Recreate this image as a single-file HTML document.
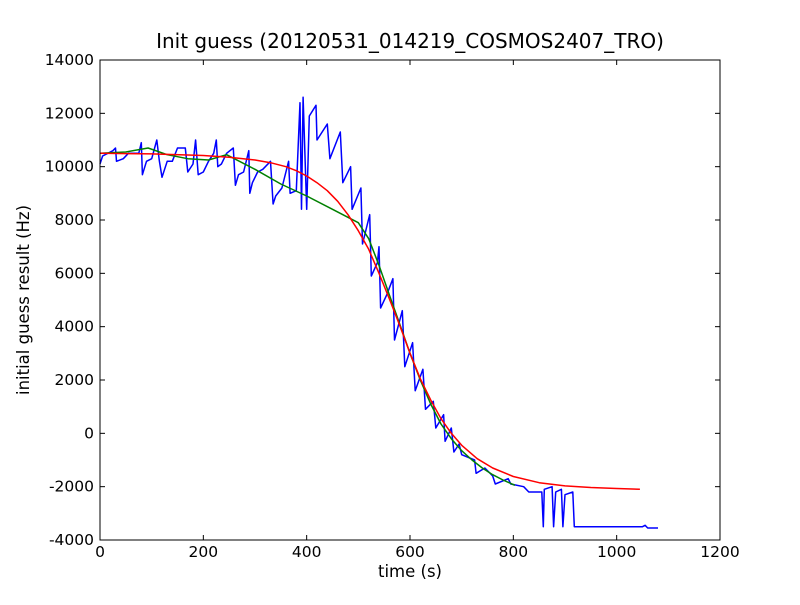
<!DOCTYPE html>
<html><head><meta charset="utf-8"><style>
body{margin:0;background:#fff;}
svg text{font-family:"DejaVu Sans","Liberation Sans",sans-serif;}
</style></head><body>
<svg id="chart" width="800" height="600" xmlns="http://www.w3.org/2000/svg">
<rect x="0" y="0" width="800" height="600" fill="#fff"/>
<text x="410" y="48" font-size="20" text-anchor="middle">Init guess (20120531_014219_COSMOS2407_TRO)</text>
<g id="plot"></g>
<rect x="100" y="60" width="620" height="480" fill="none" stroke="#000" stroke-width="1"/>
<g id="ticks"></g>
<text x="410" y="577" font-size="16.5" text-anchor="middle">time (s)</text>
<text transform="translate(29,300) rotate(-90)" font-size="16.5" text-anchor="middle">initial guess result (Hz)</text>
</svg>
<script>
const xTicks=[0,200,400,600,800,1000,1200];
const yTicks=[-4000,-2000,0,2000,4000,6000,8000,10000,12000,14000];
const blueT=[0,5,15,25,30,32,45,55,75,80,82,90,100,110,115,120,130,140,150,165,170,180,185,190,200,210,220,225,228,235,245,258,262,268,278,288,290,295,305,315,330,335,340,352,365,368,380,387,390,393,400,405,418,420,440,445,465,470,485,488,505,508,522,525,537,540,543,555,567,570,585,590,605,610,625,630,645,650,665,668,680,685,695,700,725,728,745,760,765,790,795,820,830,855,858,860,875,878,882,893,896,900,915,918,1050,1055,1060,1080];
const blueV=[10100,10400,10500,10600,10700,10200,10300,10500,10500,10900,9700,10200,10300,11000,10200,9600,10200,10200,10700,10700,9800,10100,11000,9700,9800,10200,10500,11000,10000,10100,10500,10700,9300,9700,9800,10600,9000,9400,9800,9900,10200,8600,8900,9200,10200,9000,9100,12400,8400,12600,8400,11900,12300,11000,11600,10300,11300,9400,10000,8400,9200,7100,8200,5900,6400,7000,4700,5200,5800,3500,4600,2500,3400,1600,2400,900,1200,200,700,-300,200,-700,-400,-800,-1000,-1500,-1300,-1600,-1900,-1700,-1900,-2000,-2200,-2200,-3500,-2100,-2000,-3500,-2200,-2100,-3500,-2300,-2200,-3500,-3500,-3450,-3550,-3550];
const greenT=[0,50,93,130,170,210,245,300,350,400,450,500,520,540,560,580,600,620,640,660,680,700,720,740,760,780,803];
const greenV=[10500,10550,10700,10450,10300,10250,10450,9900,9350,8900,8400,7900,7300,6300,5200,4100,3000,2000,1100,350,-200,-650,-1000,-1300,-1550,-1750,-1950];
const redT=[0,100,200,250,300,330,360,380,400,420,440,460,480,500,520,540,560,580,600,620,640,660,680,700,730,760,800,850,900,950,1000,1045];
const redV=[10500,10480,10420,10350,10250,10150,10000,9850,9650,9400,9100,8700,8200,7600,6900,6000,5050,4050,3000,2050,1250,550,0,-450,-950,-1300,-1620,-1850,-1970,-2030,-2070,-2100];
const sx=t=>100+t/1200*620;
const sy=v=>60+(14000-v)/18000*480;
const NS="http://www.w3.org/2000/svg";
const plot=document.getElementById('plot'),ticks=document.getElementById('ticks');
function line(T,V,color,name){
  const p=document.createElementNS(NS,'polyline');
  p.setAttribute('points',T.map((t,i)=>sx(t).toFixed(1)+','+sy(V[i]).toFixed(1)).join(' '));
  p.setAttribute('fill','none');p.setAttribute('stroke',color);p.setAttribute('stroke-width','1.5');p.setAttribute('stroke-linejoin','round');
  
  
  plot.appendChild(p);
}
line(blueT,blueV,'#0000ff','blue-series');
line(greenT,greenV,'#008000','green-series');
line(redT,redV,'#ff0000','red-series');
function tick(x1,y1,x2,y2){const l=document.createElementNS(NS,'line');l.setAttribute('x1',x1);l.setAttribute('y1',y1);l.setAttribute('x2',x2);l.setAttribute('y2',y2);l.setAttribute('stroke','#000');


ticks.appendChild(l);}
function label(x,y,s,anchor,name){const t=document.createElementNS(NS,'text');t.setAttribute('x',x);t.setAttribute('y',y);t.setAttribute('font-size','15.5');t.setAttribute('text-anchor',anchor);t.textContent=s;


ticks.appendChild(t);}
xTicks.forEach(v=>{const x=sx(v);tick(x,540,x,535);tick(x,60,x,65);label(x,557,String(v),'middle','x-tick-label');});
yTicks.forEach(v=>{const y=sy(v);tick(100,y,105,y);tick(720,y,715,y);label(94,y+5,String(v),'end','y-tick-label');});
</script>
</body></html>
